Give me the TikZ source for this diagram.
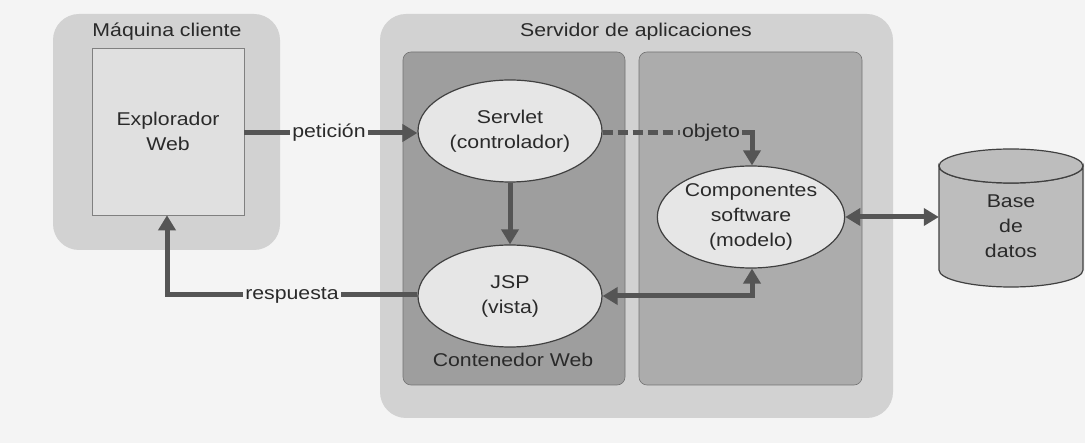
\documentclass[tikz,border=0pt]{standalone}
\usepackage{fontspec}
\setmainfont{Liberation Sans}[FakeStretch=1.15]
\usetikzlibrary{arrows.meta,shapes.geometric}
\definecolor{pagebg}{HTML}{F4F4F4}
\definecolor{outerbox}{HTML}{D2D2D2}
\definecolor{leftbox}{HTML}{9E9E9E}
\definecolor{rightbox}{HTML}{ACACAC}
\definecolor{ellfill}{HTML}{E6E6E6}
\definecolor{explfill}{HTML}{E0E0E0}
\definecolor{arrowcol}{HTML}{555555}
\definecolor{txt}{HTML}{2A2A2A}
\definecolor{dbfill}{HTML}{BDBDBD}
\begin{document}
\begin{tikzpicture}[x=1pt,y=-1pt,
  every node/.style={text=txt,font=\fontsize{18.5}{25}\selectfont,inner sep=0pt},
  outer/.style={fill=outerbox,rounded corners=26pt},
  inner/.style={rounded corners=8pt,draw=black!55,line width=0.6pt},
  ell/.style={ellipse,draw=black!75,line width=1.2pt,fill=ellfill,minimum width=184pt,minimum height=102pt,align=center},
  conn/.style={draw=arrowcol,line width=5pt},
  tip/.style={-{Triangle[length=15pt,width=17pt]}},
  lbl/.style={inner xsep=2pt}
]
\fill[pagebg] (0,0) rectangle (1085,443);
\useasboundingbox (0,0) rectangle (1085,443);
% client
\path[outer] (53,14) rectangle (280,250);
\node at (167,32) {Máquina cliente};
\node[draw=black!50,line width=0.6pt,fill=explfill,minimum width=152pt,minimum height=167pt,align=center] (expl) at (168,131.5) {Explorador\\Web};
% server
\path[outer] (380,14) rectangle (893,418);
\node at (636,32) {Servidor de aplicaciones};
\path[inner,fill=leftbox] (403,52) rectangle (625,385);
\path[inner,fill=rightbox] (639,52) rectangle (862,385);
\node (cont) at (513,360) {Contenedor Web};
\node[ell] (servlet) at (510,131) {Servlet\\(controlador)};
\node[ell] (jsp) at (510,296) {JSP\\(vista)};
\node[ell] (comp) at (751,217) {Componentes\\software\\(modelo)};
% database
\fill[dbfill,draw=black!75,line width=1.2pt] (939,166) -- (939,270) arc[start angle=180,end angle=0,x radius=72,y radius=17] -- (1083,166) arc[start angle=0,end angle=180,x radius=72,y radius=17] -- cycle;
\draw[black!75,line width=1.2pt,fill=dbfill] (1011,166) ellipse[x radius=72,y radius=17];
\node[minimum width=144pt,minimum height=10pt,align=center] (db) at (1011,226) {Base\\de\\datos};
% labels
\node[lbl] (pet) at (329,133) {petición};
\node[lbl] (obj) at (711,133) {objeto};
\node[lbl] (resp) at (292,295) {respuesta};
\coordinate (objturn) at (752,133);
\coordinate (respturn) at (167,295);
% connectors
\draw[conn] (expl.east |- pet) -- (pet.west);
\draw[conn,tip] (pet.east) -- (servlet.west |- pet);
\draw[conn,dash pattern=on 10pt off 5pt] (servlet.east |- obj) -- (obj.west);
\draw[conn,tip] (obj.east) -- (objturn) -- (objturn |- comp.north);
\draw[conn,tip] (servlet.south) -- (jsp.north);
\draw[conn,{Triangle[length=15pt,width=17pt]}-{Triangle[length=15pt,width=17pt]}] (comp.south -| objturn) |- (jsp.east);
\draw[conn,{Triangle[length=15pt,width=17pt]}-{Triangle[length=15pt,width=17pt]}] (comp.east) -- (db.west |- comp.east);
\draw[conn] (jsp.west |- resp) -- (resp.east);
\draw[conn,tip] (resp.west) -- (respturn) -- (respturn |- expl.south);
\end{tikzpicture}
\end{document}
